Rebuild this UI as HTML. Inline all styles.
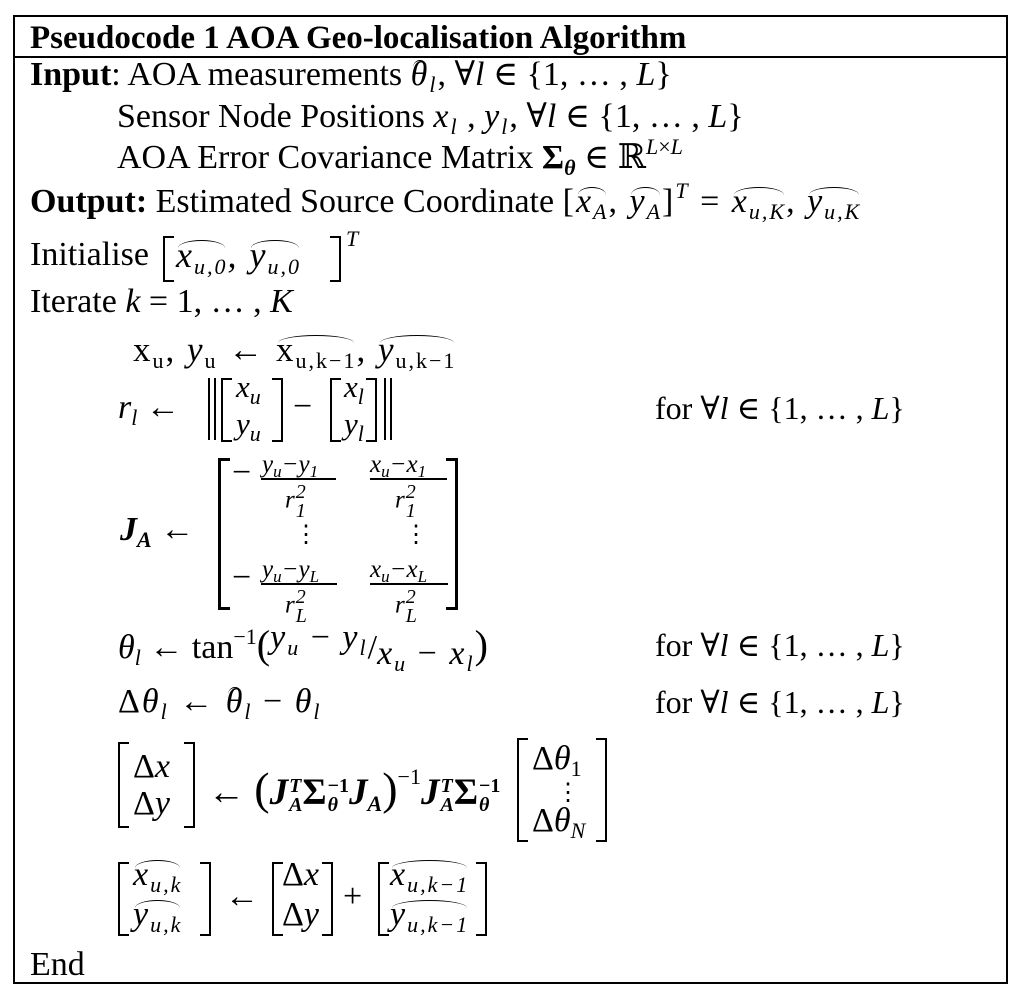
<!DOCTYPE html>
<html><head><meta charset="utf-8"><style>
body{margin:0;width:1024px;height:998px;background:#fff;position:relative;overflow:hidden;font-family:"Liberation Serif","DejaVu Serif",serif;color:#000}
.t{position:absolute;font-size:34px;line-height:34px;white-space:nowrap}
.m{font-style:italic}
.f{position:absolute;font-size:25px;line-height:25px;white-space:nowrap;font-style:italic}
.lb{position:absolute;border:2px solid #000;border-right:none;width:9px}
.rb{position:absolute;border:2px solid #000;border-left:none;width:9px}
.bar{position:absolute;background:#000;width:2px}
.hl{position:absolute;background:#000;height:1.5px}
sub{font-size:22px;vertical-align:-7px;line-height:0}
sup{font-size:22px;vertical-align:14px;line-height:0}
.f sub{font-size:17px;vertical-align:-5px}
.h{display:inline-block;position:relative}
.h::before{content:"";position:absolute;left:2px;right:2px;top:2px;height:7px;border-top:1.5px solid #000;border-radius:50% 50% 0 0/8px 8px 0 0}
.ss{display:inline-flex;flex-direction:column;vertical-align:middle;font-size:20px;line-height:19px;margin-left:1px}
.w{letter-spacing:2px}
</style></head><body>
<div style="position:absolute;left:13px;top:15px;width:995px;height:969px;border:2px solid #000;box-sizing:border-box"></div>
<div style="position:absolute;left:13px;top:56px;width:995px;height:2px;background:#000"></div>

<div class="t" style="left:30px;top:21px;font-weight:bold;font-size:33px">Pseudocode 1 AOA Geo-localisation Algorithm</div>
<div class="t" style="left:30px;top:58px"><b>Input</b>: AOA measurements <span class="m w"><span class="h">θ</span><sub>l</sub></span>, ∀<span class="m">l</span> ∈ {1, … , <span class="m">L</span>}</div>
<div class="t" style="left:117px;top:100px">Sensor Node Positions <span class="m w">x<sub>l</sub></span> , <span class="m w">y<sub>l</sub></span>, ∀<span class="m">l</span> ∈ {1, … , <span class="m">L</span>}</div>
<div class="t" style="left:117px;top:141px">AOA Error Covariance Matrix <b>Σ<sub><i>θ</i></sub></b> ∈ ℝ<sup><i>L</i>×<i>L</i></sup></div>
<div class="t" style="left:30px;top:185px"><b>Output:</b> Estimated Source Coordinate <span class="w">[<span class="m h">x<sub>A</sub></span>, <span class="m h">y<sub>A</sub></span>]<sup><i>T</i></sup> = <span class="m h">x<sub>u,K</sub></span>, <span class="m h">y<sub>u,K</sub></span></span></div>

<div class="t" style="left:30px;top:238px">Initialise</div>
<div class="lb" style="left:163px;top:236px;height:42px"></div>
<div class="t m w" style="left:176px;top:238px;font-size:36px"><span class="h">x<sub>u,0</sub></span>, <span class="h">y<sub>u,0</sub></span></div>
<div class="rb" style="left:330px;top:236px;height:42px"></div>
<div class="t m" style="left:346px;top:222px;font-size:22px">T</div>

<div class="t" style="left:30px;top:285px">Iterate <span class="m">k</span> = 1, … , <span class="m">K</span></div>

<div class="t w" style="left:133px;top:333px;font-size:35px">x<sub>u</sub>, <i>y</i><sub>u</sub> ← <span class="h">x<sub>u,k−1</sub></span>, <span class="h"><i>y</i><sub>u,k−1</sub></span></div>

<div class="t m" style="left:118px;top:391px">r<sub>l</sub> <span style="font-style:normal">←</span></div>
<div class="bar" style="left:208px;top:378px;height:62px"></div><div class="bar" style="left:214px;top:378px;height:62px"></div>
<div class="lb" style="left:221px;top:378px;height:60px"></div>
<div class="t m" style="left:236px;top:370px;font-size:31px">x<sub>u</sub></div><div class="t m" style="left:236px;top:407px;font-size:31px">y<sub>u</sub></div>
<div class="rb" style="left:272px;top:378px;height:60px"></div>
<div class="t" style="left:293px;top:390px">−</div>
<div class="lb" style="left:330px;top:378px;height:60px"></div>
<div class="t m" style="left:344px;top:370px;font-size:31px">x<sub>l</sub></div><div class="t m" style="left:344px;top:407px;font-size:31px">y<sub>l</sub></div>
<div class="rb" style="left:366px;top:378px;height:60px"></div>
<div class="bar" style="left:384px;top:378px;height:62px"></div><div class="bar" style="left:390px;top:378px;height:62px"></div>
<div class="t" style="left:655px;top:391px;font-size:32px">for ∀<i>l</i> ∈ {1, … , <i>L</i>}</div>

<div class="t m" style="left:120px;top:513px;font-weight:bold">J<sub>A</sub> <span style="font-weight:normal;font-style:normal">←</span></div>
<div class="lb" style="left:218px;top:458px;height:146px;border-width:3px"></div>
<div class="rb" style="left:446px;top:458px;height:146px;border-width:3px"></div>
<div class="t" style="left:232px;top:456px">−</div>
<div class="f" style="left:262px;top:452px">y<sub>u</sub>−y<sub>1</sub></div>
<div class="hl" style="left:261px;top:478px;width:75px"></div>
<div class="f" style="left:285px;top:483px">r<span class="ss"><span>2</span><span>1</span></span></div>
<div class="f" style="left:370px;top:452px">x<sub>u</sub>−x<sub>1</sub></div>
<div class="hl" style="left:370px;top:478px;width:77px"></div>
<div class="f" style="left:395px;top:483px">r<span class="ss"><span>2</span><span>1</span></span></div>
<div class="t" style="left:294px;top:518px;font-size:24px">⋮</div>
<div class="t" style="left:404px;top:518px;font-size:24px">⋮</div>
<div class="t" style="left:232px;top:561px">−</div>
<div class="f" style="left:262px;top:557px">y<sub>u</sub>−y<sub>L</sub></div>
<div class="hl" style="left:261px;top:583px;width:76px"></div>
<div class="f" style="left:285px;top:588px">r<span class="ss"><span>2</span><span>L</span></span></div>
<div class="f" style="left:370px;top:557px">x<sub>u</sub>−x<sub>L</sub></div>
<div class="hl" style="left:370px;top:583px;width:78px"></div>
<div class="f" style="left:395px;top:588px">r<span class="ss"><span>2</span><span>L</span></span></div>

<div class="t" style="left:118px;top:628px"><i>θ<sub>l</sub></i> ← tan<sup>−1</sup><span style="font-size:40px">(</span><span class="w" style="position:relative;top:-10px"><i>y<sub>u</sub></i> − <i>y<sub>l</sub></i></span>/<span class="w" style="position:relative;top:6px"><i>x<sub>u</sub></i> − <i>x<sub>l</sub></i></span><span style="font-size:40px">)</span></div>
<div class="t" style="left:655px;top:628px;font-size:32px">for ∀<i>l</i> ∈ {1, … , <i>L</i>}</div>

<div class="t w" style="left:118px;top:685px">Δ<i>θ<sub>l</sub></i> ← <i><span class="h">θ</span><sub>l</sub></i> − <i>θ<sub>l</sub></i></div>
<div class="t" style="left:655px;top:685px;font-size:32px">for ∀<i>l</i> ∈ {1, … , <i>L</i>}</div>

<div class="lb" style="left:118px;top:742px;height:82px"></div>
<div class="t" style="left:133px;top:750px">Δ<i>x</i></div><div class="t" style="left:133px;top:787px">Δ<i>y</i></div>
<div class="rb" style="left:184px;top:742px;height:82px"></div>
<div class="t" style="left:208px;top:772px;font-size:37px">← <span style="font-size:46px">(</span><b><i>J</i><span class="ss"><i>T</i><i>A</i></span>Σ<span class="ss"><span>−1</span><i>θ</i></span><i>J<sub>A</sub></i></b><span style="font-size:46px">)</span><sup style="vertical-align:20px">−1</sup><b><i>J</i><span class="ss"><i>T</i><i>A</i></span>Σ<span class="ss"><span>−1</span><i>θ</i></span></b></div>
<div class="lb" style="left:517px;top:738px;height:100px"></div>
<div class="t" style="left:532px;top:742px">Δ<i>θ</i><sub>1</sub></div>
<div class="t" style="left:556px;top:776px;font-size:24px">⋮</div>
<div class="t" style="left:532px;top:804px">Δ<i>θ<sub>N</sub></i></div>
<div class="rb" style="left:596px;top:738px;height:100px"></div>

<div class="lb" style="left:118px;top:862px;height:70px"></div>
<div class="t m w" style="left:133px;top:858px;font-size:34px"><span class="h">x<sub>u,k</sub></span></div><div class="t m w" style="left:133px;top:898px;font-size:34px"><span class="h">y<sub>u,k</sub></span></div>
<div class="rb" style="left:200px;top:862px;height:70px"></div>
<div class="t" style="left:225px;top:880px">←</div>
<div class="lb" style="left:272px;top:862px;height:70px"></div>
<div class="t" style="left:282px;top:858px">Δ<i>x</i></div><div class="t" style="left:282px;top:898px">Δ<i>y</i></div>
<div class="rb" style="left:322px;top:862px;height:70px"></div>
<div class="t" style="left:343px;top:880px">+</div>
<div class="lb" style="left:378px;top:862px;height:70px"></div>
<div class="t m w" style="left:390px;top:858px;font-size:34px"><span class="h">x<sub>u,k−1</sub></span></div><div class="t m w" style="left:390px;top:898px;font-size:34px"><span class="h">y<sub>u,k−1</sub></span></div>
<div class="rb" style="left:476px;top:862px;height:70px"></div>

<div class="t" style="left:30px;top:948px">End</div>
</body></html>
